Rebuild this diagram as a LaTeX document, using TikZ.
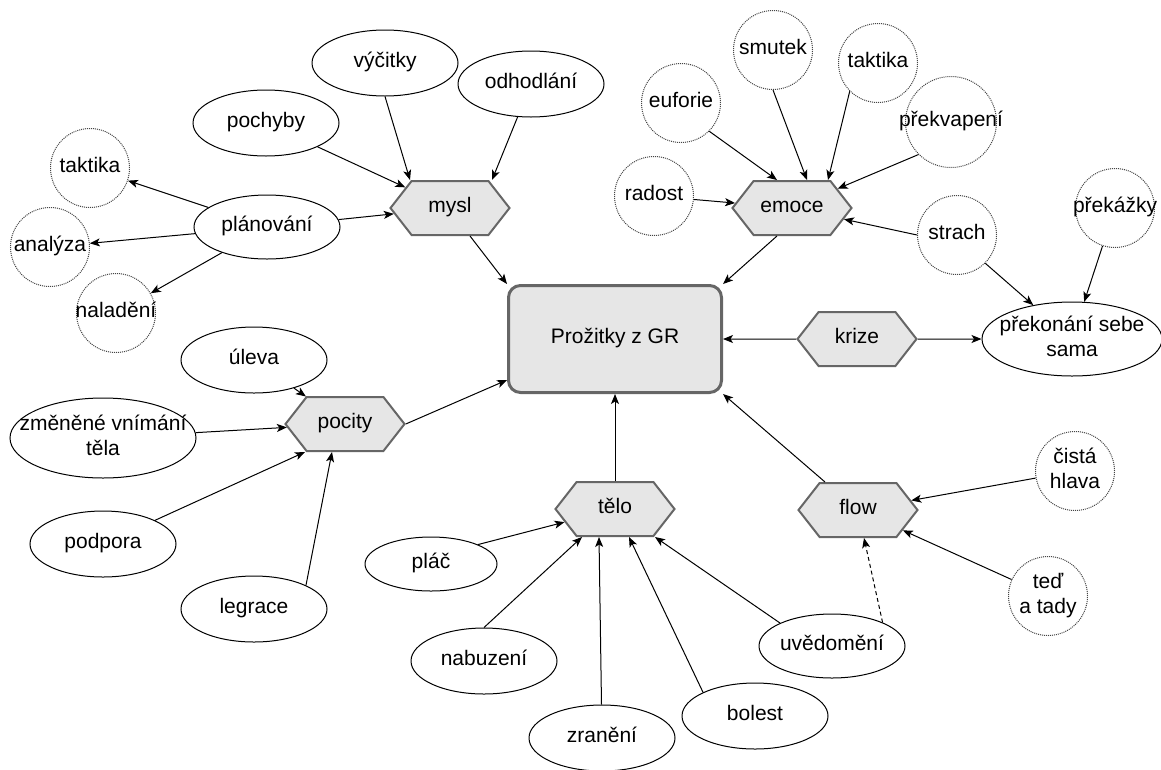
\documentclass[tikz,border=0pt]{standalone}
\usepackage{fontspec}
\setmainfont{Liberation Sans}
\usetikzlibrary{shapes.geometric,shapes.symbols,arrows.meta}
\definecolor{hexfill}{HTML}{E6E6E6}
\definecolor{bordergray}{HTML}{666666}
\definecolor{dotgray}{HTML}{444444}
\newcommand{\mytxt}[1]{\raisebox{-3pt}{\makebox[0pt]{\begin{tabular}{@{}c@{}}#1\end{tabular}}}}
\begin{document}
\begin{tikzpicture}[x=1pt,y=-1pt,
  every node/.style={font=\fontsize{21}{24.5}\selectfont, text=black},
  hexa/.style={shape=signal, signal to=east and west, signal pointer angle=104,
    draw=bordergray, line width=2pt, fill=hexfill,
    minimum width=119pt, minimum height=54pt, inner sep=0pt},
  mainbox/.style={rectangle, rounded corners=12pt, draw=bordergray, line width=3pt,
    fill=hexfill, minimum width=213pt, minimum height=107pt, inner sep=0pt},
  oval/.style={ellipse, draw=black, line width=1pt, minimum width=146pt,
    minimum height=66pt, inner sep=0pt},
  dcirc/.style={circle, draw=dotgray, line width=1pt, dash pattern=on 1pt off 1pt,
    minimum size=79pt, inner sep=0pt},
  arr/.style={draw=black, line width=1pt, -{Stealth[length=10pt,width=8pt,inset=2.5pt]}},
]
\useasboundingbox (0,0) rectangle (1161,769);

% central node
\node[mainbox] (box) at (615,339) {\mytxt{Prožitky z GR}};

% hexagons
\node[hexa] (mysl)   at (450,208) {\mytxt{mysl}};
\node[hexa] (emoce)  at (792,208) {\mytxt{emoce}};
\node[hexa] (pocity) at (345,424) {\mytxt{pocity}};
\node[hexa] (krize)  at (857,339) {\mytxt{krize}};
\node[hexa] (telo)   at (615,509) {\mytxt{tělo}};
\node[hexa] (flow)   at (858,510) {\mytxt{flow}};

% solid ellipses
\node[oval] (vycitky)   at (385,63)  {\mytxt{výčitky}};
\node[oval] (odhodlani) at (531,84)  {\mytxt{odhodlání}};
\node[oval] (pochyby)   at (266,123) {\mytxt{pochyby}};
\node[oval, minimum height=64pt] (planovani) at (267,227) {\mytxt{plánování}};
\node[oval] (uleva)     at (254,360) {\mytxt{úleva}};
\node[oval, minimum width=186pt, minimum height=80pt] (zmenene) at (103,438) {\mytxt{změněné vnímání\\těla}};
\node[oval] (podpora)   at (103,544) {\mytxt{podpora}};
\node[oval] (legrace)   at (254,609) {\mytxt{legrace}};
\node[oval, minimum width=132pt, minimum height=54pt] (plac) at (431,564) {\mytxt{pláč}};
\node[oval] (nabuzeni)  at (484,661) {\mytxt{nabuzení}};
\node[oval] (zraneni)   at (602,738) {\mytxt{zranění}};
\node[oval] (bolest)    at (755,716) {\mytxt{bolest}};
\node[oval, minimum height=64pt] (uvedomeni) at (832,646) {\mytxt{uvědomění}};
\node[oval, minimum width=180pt, minimum height=74pt] (prekonani) at (1072,339) {\mytxt{překonání sebe\\sama}};

% dotted circles
\node[dcirc] (taktikaL)   at (90,168)   {\mytxt{taktika}};
\node[dcirc] (analyza)    at (50,247)   {\mytxt{analýza}};
\node[dcirc] (naladeni)   at (116,313)  {\mytxt{naladění}};
\node[dcirc] (euforie)    at (681,103)  {\mytxt{euforie}};
\node[dcirc] (smutek)     at (773,50)   {\mytxt{smutek}};
\node[dcirc] (taktikaR)   at (878,63)   {\mytxt{taktika}};
\node[dcirc, minimum size=91pt] (prekvapeni) at (951,122) {\mytxt{překvapení}};
\node[dcirc] (radost)     at (654,196)  {\mytxt{radost}};
\node[dcirc] (strach)     at (957,235)  {\mytxt{strach}};
\node[dcirc] (prekazky)   at (1115,208) {\mytxt{překážky}};
\node[dcirc] (cista)      at (1075,471) {\mytxt{čistá\\hlava}};
\node[dcirc] (ted)        at (1048,596) {\mytxt{teď\\a tady}};

% mysl group
\draw[arr] (pochyby) -- (mysl);
\draw[arr] (vycitky.south) -- ([xshift=-40pt]mysl.north);
\draw[arr] (odhodlani) -- ([xshift=42pt]mysl.north);
\draw[arr] (planovani) -- (mysl);
\draw[arr] (planovani) -- (taktikaL);
\draw[arr] (planovani) -- (analyza);
\draw[arr] (planovani) -- (naladeni);
\draw[arr] ([xshift=20pt]mysl.south) -- (box.north west);

% emoce group
\draw[arr] (euforie.south east) -- ([xshift=-15pt]emoce.north);
\draw[arr] (smutek.south) -- ([xshift=15pt]emoce.north);
\draw[arr] (taktikaR.south west) -- ([xshift=36pt]emoce.north);
\draw[arr] (prekvapeni.south west) -- (emoce);
\draw[arr] (radost) -- (emoce);
\draw[arr] (strach.west) -- (emoce);
\draw[arr] ([xshift=-15pt]emoce.south) -- (box.north east);
\draw[arr] (strach.south east) -- (prekonani);
\draw[arr] (prekazky) -- (prekonani);

% krize
\draw[arr] (krize) -- (box);
\draw[arr] (krize) -- (prekonani);

% pocity group
\draw[arr] (uleva) -- (pocity);
\draw[arr] (zmenene) -- (pocity);
\draw[arr] (podpora) -- ([xshift=-40pt]pocity.south);
\draw[arr] (legrace.north east) -- ([xshift=-13pt]pocity.south);
\draw[arr] (pocity.east) -- ([yshift=14pt]box.south west);

% telo group
\draw[arr] (plac.north east) -- (telo);
\draw[arr] (nabuzeni.north) -- ([xshift=-33pt]telo.south);
\draw[arr] (zraneni) -- ([xshift=-16pt]telo.south);
\draw[arr] (bolest.north west) -- ([xshift=14pt]telo.south);
\draw[arr] (uvedomeni.north west) -- ([xshift=40pt]telo.south);
\draw[arr] (telo) -- (box);

% flow group
\draw[arr] (cista) -- (flow);
\draw[arr] (ted) -- (flow);
\draw[arr, dash pattern=on 4pt off 3pt] (uvedomeni.25) -- ([xshift=6pt]flow.south);
\draw[arr] ([xshift=-33pt]flow.north) -- (box.south east);
\end{tikzpicture}
\end{document}
